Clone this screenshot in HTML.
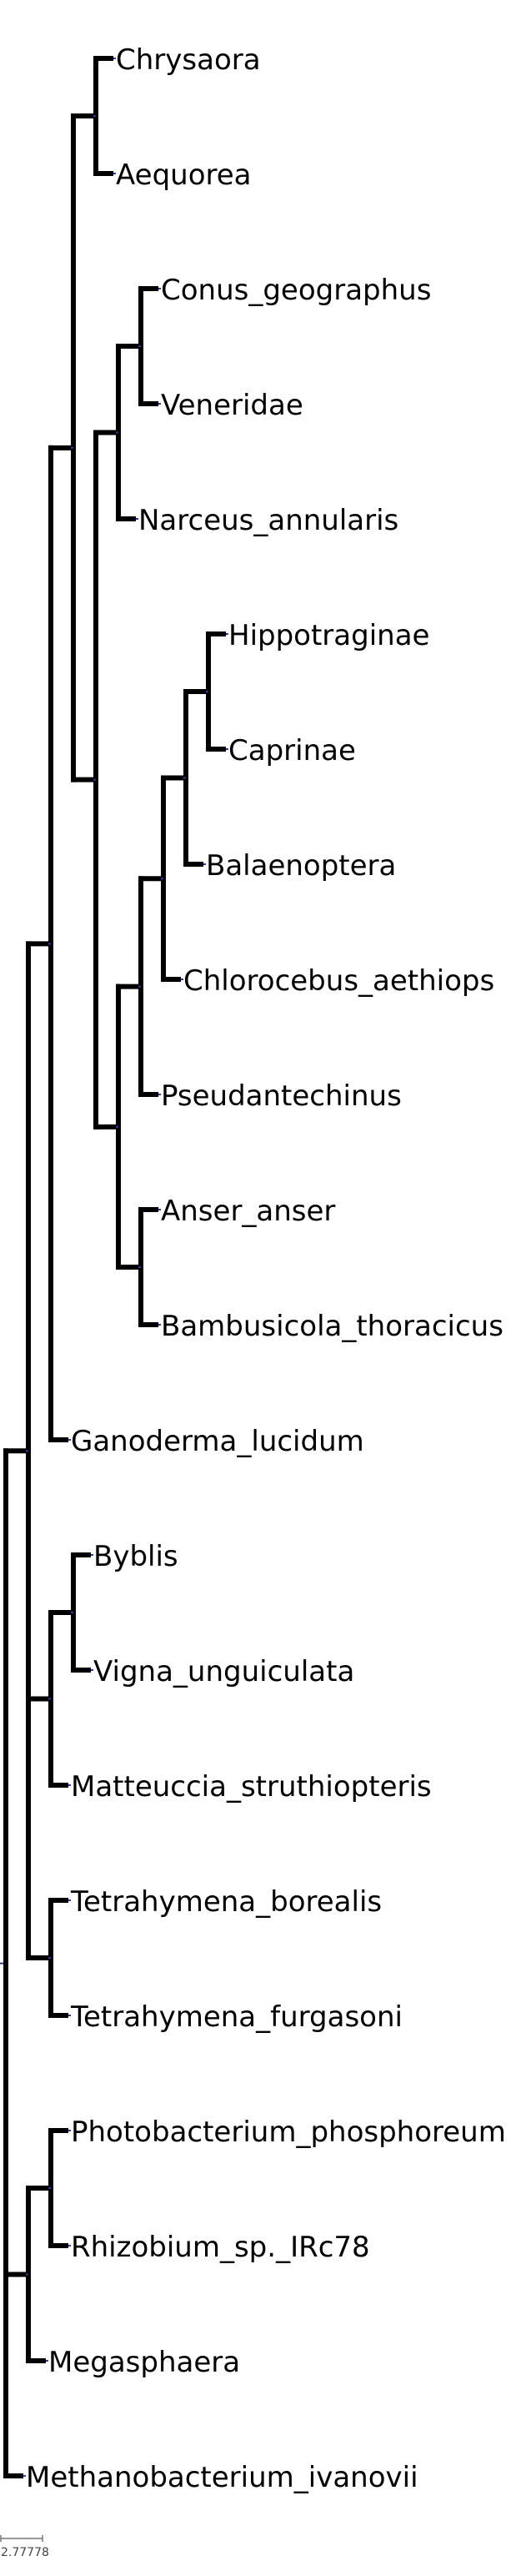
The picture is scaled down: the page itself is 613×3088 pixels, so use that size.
<!DOCTYPE html>
<html>
<head>
<meta charset="utf-8">
<style>
  html,body{margin:0;padding:0;background:#fff;}
  svg{display:block;}
  .lbl{font-family:"DejaVu Sans","Liberation Sans",sans-serif;font-size:34px;fill:#000;}
  .sc{font-family:"DejaVu Sans","Liberation Sans",sans-serif;font-size:14px;fill:#444;}
</style>
</head>
<body>
<svg id="tree" width="613" height="3088" viewBox="0 0 613 3088" xmlns="http://www.w3.org/2000/svg"></svg>
<script>
// ---- data ----
const leafNames = ["Chrysaora","Aequorea","Conus_geographus","Veneridae","Narceus_annularis","Hippotraginae","Caprinae","Balaenoptera","Chlorocebus_aethiops","Pseudantechinus","Anser_anser","Bambusicola_thoracicus","Ganoderma_lucidum","Byblis","Vigna_unguiculata","Matteuccia_struthiopteris","Tetrahymena_borealis","Tetrahymena_furgasoni","Photobacterium_phosphoreum","Rhizobium_sp._IRc78","Megasphaera","Methanobacterium_ivanovii"];
const leafParents = ["F","F","J","J","H","O","O","N","M","K","L","L","C","Q","Q","P","S","S","PR","PR","B","R"];
const nodeIds =     ["R","A","B","C","P","S","E","Q","F","G","H","I","J","K","L","M","N","O","PR"];
const nodeParents = [null,"R","R","A","A","A","C","P","E","E","G","G","H","I","I","K","M","N","B"];
const nodeDepths =  [0,1,1,2,2,2,3,3,4,4,5,5,6,6,6,7,8,9,2];
const scaleLabel = "2.77778";

// ---- layout ----
const svg = document.getElementById('tree');
const NS = "http://www.w3.org/2000/svg";
const x0 = 7, step = 27, y0 = 70, rowH = 138, tipLen = 21;
const depthX = d => x0 + step * d;
const leafY = i => y0 + rowH * i;

const nodes = {};
nodeIds.forEach((id, i) => { nodes[id] = {id, parent: nodeParents[i], depth: nodeDepths[i], children: []}; });
leafNames.forEach((n, i) => { nodes[leafParents[i]].children.push({leaf: true, idx: i, name: n}); });
// attach internal children in order of first leaf appearance
function firstLeaf(id){
  const n = nodes[id];
  let m = Infinity;
  n.children.forEach(c => { m = Math.min(m, c.leaf ? c.idx : firstLeaf(c.id)); });
  nodeIds.forEach((cid, i) => { if (nodeParents[i] === id) m = Math.min(m, firstLeafRaw(cid)); });
  return m;
}
function firstLeafRaw(id){
  let m = Infinity;
  leafParents.forEach((p, i) => { if (p === id) m = Math.min(m, i); });
  nodeIds.forEach((cid, i) => { if (nodeParents[i] === id) m = Math.min(m, firstLeafRaw(cid)); });
  return m;
}
nodeIds.forEach((id, i) => { if (nodeParents[i]) nodes[nodeParents[i]].children.push({leaf: false, id}); });
Object.values(nodes).forEach(n => {
  n.children.sort((a, b) => (a.leaf ? a.idx : firstLeafRaw(a.id)) - (b.leaf ? b.idx : firstLeafRaw(b.id)));
});
function nodeY(id){
  const n = nodes[id];
  if (n.y !== undefined) return n.y;
  const ys = n.children.map(c => c.leaf ? leafY(c.idx) : nodeY(c.id));
  n.y = (Math.min(...ys) + Math.max(...ys)) / 2;
  return n.y;
}
nodeIds.forEach(nodeY);

function line(x1, y1, x2, y2, name, color, w){
  const l = document.createElementNS(NS, 'line');
  l.setAttribute('x1', x1); l.setAttribute('y1', y1);
  l.setAttribute('x2', x2); l.setAttribute('y2', y2);
  l.setAttribute('stroke', color || '#000');
  l.setAttribute('stroke-width', w || 6);
  l.setAttribute('stroke-linecap', 'square');
  
  
  svg.appendChild(l);
  return l;
}
function dot(x, y){
  const r = document.createElementNS(NS, 'rect');
  r.setAttribute('x', x - 1); r.setAttribute('y', y - 1);
  r.setAttribute('width', 3); r.setAttribute('height', 2);
  r.setAttribute('fill', '#2a3a9a');
  
  
  svg.appendChild(r);
}

// verticals and horizontals for internal nodes
Object.values(nodes).forEach(n => {
  const x = depthX(n.depth);
  const ys = n.children.map(c => c.leaf ? leafY(c.idx) : nodes[c.id].y);
  line(x, Math.min(...ys), x, Math.max(...ys), 'clade-' + n.id + '-vertical');
  if (n.parent) {
    const px = depthX(nodes[n.parent].depth);
    line(px, n.y, x - 3, n.y, 'branch-' + n.id);
    dot(x - 2, n.y);
  }
});
// root stub
line(0, nodes['R'].y, 3, nodes['R'].y, 'root-stub', '#2a3a9a', 2);

// leaves
leafNames.forEach((name, i) => {
  const px = depthX(nodes[leafParents[i]].depth);
  const y = leafY(i);
  line(px, y, px + tipLen - 3, y, 'branch-' + name.toLowerCase());
  dot(px + tipLen + 1, y);
  const t = document.createElementNS(NS, 'text');
  t.setAttribute('x', px + tipLen + 3);
  t.setAttribute('y', y + 13);
  t.setAttribute('class', 'lbl');
  
  
  t.textContent = name;
  svg.appendChild(t);
});
</script>
<svg style="position:absolute;left:0;top:3030px" width="80" height="50">
  <line x1="1" y1="13" x2="51" y2="13" stroke="#777" stroke-width="1.5"/>
  <line x1="1" y1="9" x2="1" y2="17" stroke="#777" stroke-width="1.5"/>
  <line x1="51" y1="9" x2="51" y2="17" stroke="#777" stroke-width="1.5"/>
  <text x="1" y="34" class="sc">2.77778</text>
</svg>
</body>
</html>
